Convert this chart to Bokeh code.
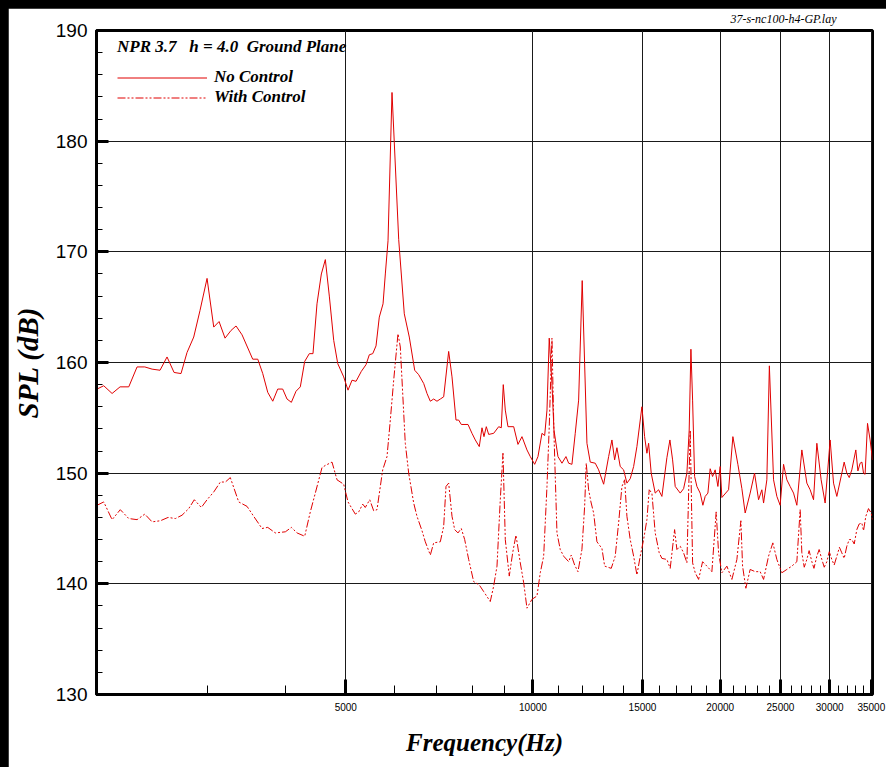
from bokeh.plotting import figure
from bokeh.models import FixedTicker, Legend, LegendItem, Range1d, NumeralTickFormatter
from bokeh.embed import file_html
from bokeh.resources import INLINE

# ---- data ----
nc_freq = [1991, 2041, 2105, 2168, 2239, 2309, 2376, 2441, 2514, 2580, 2648, 2717, 2778, 2848, 2915,
           2992, 3067, 3128, 3198, 3270, 3331, 3406, 3543, 3610, 3677, 3746, 3816, 3887, 3959, 4023,
           4088, 4159, 4226, 4295, 4369, 4429, 4495, 4568, 4636, 4705, 4782, 4854, 4962, 5042, 5117,
           5194, 5297, 5389, 5456, 5525, 5593, 5661, 5740, 5789, 5847, 5934, 6083, 6210, 6326, 6454,
           6550, 6673, 6755, 6838, 6924, 7009, 7096, 7185, 7319, 7410, 7520, 7595, 7669, 7862, 7979,
           8077, 8197, 8280, 8341, 8413, 8487, 8646, 8808, 8893, 8959, 9026, 9116, 9311, 9460, 9601,
           9780, 9901, 10063, 10187, 10339, 10442, 10532, 10621, 10728, 10808, 10969, 11133, 11299,
           11412, 11552, 11694, 11842, 12000, 12212, 12362, 12593, 12752, 12991, 13233, 13395, 13530,
           13646, 13813, 13988, 14160, 14334, 14516, 14694, 14968, 15119, 15248, 15344, 15492, 15723,
           15922, 16118, 16419, 16603, 16769, 16932, 17248, 17466, 17681, 17832, 17945, 18058, 18192,
           18348, 18572, 18759, 18919, 19110, 19272, 19445, 19632, 19830, 19999, 20125, 20630, 20962,
           21354, 21672, 21938, 22347, 22714, 23053, 23336, 23484, 23772, 23994, 24369, 24669, 24971,
           25288, 25598, 25913, 26241, 26564, 27060, 27565, 27904, 28257, 28605, 29063, 29496, 30047,
           30428, 30802, 31377, 31650, 31963, 32250, 32559, 32800, 33045, 33300, 33575, 33800, 34000,
           34200, 34509, 34841, 35152]
nc_spl = [157.6, 157.9, 157.2, 157.8, 157.8, 159.6, 159.6, 159.4, 159.3, 160.5, 159.1, 159.0, 160.9, 162.3, 164.7,
          167.6, 163.2, 163.7, 162.2, 162.9, 163.3, 162.5, 160.3, 160.3, 159.0, 157.3, 156.5, 157.6, 157.6, 156.7,
          156.4, 157.4, 157.8, 160.1, 160.8, 160.8, 165.3, 168.0, 169.3, 166.0, 162.0, 159.9, 158.7, 157.5, 158.4,
          158.3, 159.2, 159.8, 160.7, 160.8, 161.5, 164.1, 165.3, 168.0, 171.0, 184.4, 171.1, 164.4, 162.3, 159.3,
          158.9, 158.1, 157.2, 156.5, 156.7, 156.5, 156.7, 156.9, 161.0, 158.7, 154.8, 154.8, 154.4, 154.4, 153.6,
          153.0, 152.4, 154.1, 153.3, 154.2, 153.5, 153.6, 154.2, 154.1, 158.0, 155.7, 154.2, 154.2, 152.6, 153.3,
          152.1, 151.5, 150.8, 151.5, 153.6, 153.4, 155.7, 162.2, 158.1, 153.9, 151.5, 150.9, 151.5,
          150.9, 150.8, 153.6, 156.6, 167.4, 152.7, 151.0, 150.9, 150.3, 149.0, 151.5, 153.0, 151.2,
          152.3, 150.6, 150.3, 149.1, 149.5, 150.6, 152.4, 156.0, 153.3, 151.8, 152.7, 150.0, 148.2,
          148.5, 147.9, 151.4, 153.0, 151.2, 148.8, 148.2, 148.6, 150.0, 153.9, 161.2, 156.6, 149.7,
          148.8, 148.2, 147.1, 147.9, 148.2, 150.4, 149.7, 150.3, 148.8, 150.6, 147.8, 148.5, 153.3,
          150.8, 148.6, 146.4, 148.2, 150.0, 147.6, 148.5, 147.3, 149.4, 159.7, 149.4, 147.9, 147.1,
          150.8, 149.4, 148.8, 148.2, 147.1, 152.1, 149.1, 148.5, 147.6, 152.7, 149.4, 147.3, 153.0,
          149.1, 147.9, 150.0, 151.0, 150.0, 149.6, 150.3, 151.2, 152.1, 150.2, 150.9, 151.0, 150.0,
          149.9, 154.5, 153.0, 151.2]

wc_freq = [1991, 2041, 2105, 2170, 2239, 2309, 2376, 2441, 2517, 2590, 2661, 2727, 2796, 2854, 2929,
           2992, 3067, 3143, 3202, 3261, 3364, 3469, 3556, 3667, 3746, 3852, 3998, 4088, 4175, 4295,
           4385, 4467, 4579, 4636, 4752, 4841, 4962, 5042, 5180, 5246, 5324, 5375, 5464, 5545, 5613,
           5733, 5825, 5897, 5971, 6067, 6119, 6233, 6312, 6430, 6509, 6631, 6712, 6838, 6924, 7096,
           7185, 7247, 7319, 7410, 7484, 7576, 7669, 7766, 7882, 8029, 8197, 8332, 8538, 8646, 8753,
           8860, 8949, 9026, 9160, 9276, 9390, 9541, 9662, 9780, 9963, 10149, 10274, 10404, 10532,
           10621, 10728, 10808, 10929, 11063, 11203, 11412, 11522, 11668, 11812, 11987, 12108, 12180,
           12288, 12394, 12518, 12672, 12909, 13039, 13361, 13560, 13731, 13900, 14040, 14160, 14334,
           14516, 14694, 14875, 15063, 15248, 15378, 15532, 15723, 15958, 16118, 16419, 16621, 16894,
           17038, 17248, 17466, 17681, 17898, 18058, 18233, 18463, 18738, 19039, 19394, 19705, 19881,
           20125, 20501, 20885, 21275, 21592, 21728, 21995, 22347, 22765, 23190, 23484, 23922, 24306,
           24669, 25129, 25598, 26076, 26564, 26890, 27060, 27300, 27565, 27800, 28080, 28300, 28605,
           28850, 29138, 29400, 29682, 29950, 30237, 30500, 30802, 31100, 31377, 31650, 31963, 32250,
           32559, 32850, 33168, 33450, 33787, 34000, 34291, 34634, 34971, 35152]
wc_spl = [147.1, 147.4, 145.8, 146.7, 145.9, 145.8, 146.3, 145.6, 145.7, 146.0, 145.9, 146.2, 146.8, 147.6, 146.9,
          147.6, 148.3, 149.2, 149.2, 149.6, 147.4, 147.0, 146.1, 145.0, 145.1, 144.6, 144.7, 145.1, 144.6, 144.3,
          146.5, 148.2, 150.5, 150.7, 151.0, 149.4, 149.0, 147.4, 146.3, 146.5, 147.2, 146.9, 147.6, 146.6, 146.7,
          150.3, 151.5, 154.8, 158.4, 162.6, 161.4, 152.7, 150.0, 147.3, 146.1, 144.8, 143.8, 142.6, 143.7, 143.8,
          145.2, 148.8, 149.1, 146.1, 144.9, 144.6, 145.0, 144.0, 142.2, 140.2, 139.9, 139.3, 138.4, 139.8, 141.6,
          147.6, 151.8, 144.0, 140.7, 142.8, 144.4, 141.9, 140.1, 137.8, 138.6, 138.9, 141.0, 142.5, 148.8,
          154.2, 162.2, 153.6, 144.6, 143.1, 142.5, 142.0, 142.6, 141.7, 141.1, 143.1, 147.0, 150.9,
          148.5, 147.4, 146.4, 143.8, 143.2, 141.6, 141.4, 142.5, 145.5, 148.8, 149.4, 146.1, 144.0,
          142.5, 140.8, 142.5, 144.0, 145.8, 148.5, 148.2, 144.6, 142.8, 142.3, 142.2, 141.4, 144.9,
          143.1, 143.4, 142.8, 141.9, 153.9, 141.9, 141.0, 140.4, 142.0, 141.6, 141.1, 146.5, 142.8,
          141.0, 141.6, 140.4, 142.2, 145.7, 141.6, 139.6, 141.3, 141.1, 141.1, 140.4, 142.5, 143.7,
          142.2, 141.0, 141.3, 141.6, 142.0, 146.7, 142.8, 141.5, 142.2, 143.0, 142.0, 141.4, 142.5,
          143.1, 142.2, 141.5, 142.0, 142.9, 142.2, 141.7, 142.5, 143.3, 142.8, 142.3, 143.4, 144.0,
          144.0, 143.6, 144.9, 145.4, 145.5, 144.8, 146.1, 146.8, 146.4, 145.8]

x_major = [5000, 10000, 15000, 20000, 25000, 30000, 35000]
x_minor = [3000, 4000, 6000, 7000, 8000, 9000, 11000, 12000, 13000, 14000, 16000, 17000, 18000,
           19000, 21000, 22000, 23000, 24000, 26000, 27000, 28000, 29000, 31000, 32000, 33000, 34000]
y_major = [130, 140, 150, 160, 170, 180, 190]
y_minor = [132, 134, 136, 138, 142, 144, 146, 148, 152, 154, 156, 158, 162, 164, 166, 168,
           172, 174, 176, 178, 182, 184, 186, 188]

RED = "#e00000"
SERIF = "Liberation Serif"
SANS = "Liberation Sans"

p = figure(width=878, height=759, x_axis_type="log",
           x_range=Range1d(1987, 35150), y_range=Range1d(130, 190),
           output_backend="svg", toolbar_location=None,
           min_border_left=86, min_border_right=14, min_border_top=22, min_border_bottom=73)
p.background_fill_color = "white"
p.border_fill_color = "white"
p.outline_line_color = "black"
p.outline_line_width = 3

p.xaxis.ticker = FixedTicker(ticks=x_major, minor_ticks=x_minor)
p.yaxis.ticker = FixedTicker(ticks=y_major, minor_ticks=y_minor)
p.xaxis.formatter = NumeralTickFormatter(format="0")

for ax in (p.xaxis[0], p.yaxis[0]):
    ax.axis_line_width = 3
    ax.axis_line_color = "black"
    ax.major_tick_out = 0
    ax.minor_tick_out = 0
    ax.major_tick_line_width = 3
    ax.minor_tick_line_width = 1
    ax.major_tick_line_color = "black"
    ax.minor_tick_line_color = "black"
    ax.major_label_text_font = SANS
    ax.major_label_text_color = "black"
    ax.axis_label_text_font = SERIF
    ax.axis_label_text_font_style = "bold italic"
    ax.axis_label_text_color = "black"

p.xaxis.major_tick_in = 15
p.xaxis.minor_tick_in = 9
p.xaxis.major_label_text_font_size = "10px"
p.xaxis.major_label_standoff = 8
p.xaxis.axis_label = "Frequency(Hz)"
p.xaxis.axis_label_text_font_size = "25px"
p.xaxis.axis_label_standoff = 15

p.yaxis.major_tick_in = 12
p.yaxis.minor_tick_in = 6
p.yaxis.major_label_text_font_size = "19px"
p.yaxis.major_label_standoff = 9
p.yaxis.axis_label = "SPL (dB)"
p.yaxis.axis_label_text_font_size = "29px"
p.yaxis.axis_label_standoff = 9

p.xgrid.grid_line_color = "#1a1a1a"
p.ygrid.grid_line_color = "#1a1a1a"
p.xgrid.grid_line_width = 1
p.ygrid.grid_line_width = 1

r_nc = p.line(nc_freq, nc_spl, line_color=RED, line_width=1)
r_wc = p.line(wc_freq, wc_spl, line_color=RED, line_width=1, line_dash="8 2 2 2 2 2")

legend = Legend(items=[LegendItem(label="No Control", renderers=[r_nc]),
                       LegendItem(label="With Control", renderers=[r_wc])],
                location=(21, 587),
                title="NPR 3.7\u00a0\u00a0 h = 4.0\u00a0 Ground Plane",
                title_text_font=SERIF, title_text_font_style="bold italic",
                title_text_font_size="17px", title_text_color="black", title_standoff=10,
                label_text_font=SERIF, label_text_font_style="bold italic",
                label_text_font_size="17px", label_text_color="black",
                glyph_width=90, glyph_height=19, label_height=19, label_standoff=7,
                spacing=0, padding=0, margin=0,
                border_line_color=None, background_fill_alpha=0)
p.add_layout(legend)

p.title.text = "37-s-nc100-h4-GP.lay"
p.title.align = "right"
p.title.vertical_align = "top"
p.title.text_font = SERIF
p.title.text_font_style = "italic"
p.title.text_font_size = "12px"
p.title.text_color = "black"
p.title.offset = 36
p.title.standoff = 5

html = file_html(p, INLINE)
style = '<style>html,body{background:#000000;} body{margin:8px 0 0 8px;overflow:hidden;}</style>'
if "</head>" in html:
    html = html.replace("</head>", style + "</head>", 1)
open("out.html", "w").write(html)
